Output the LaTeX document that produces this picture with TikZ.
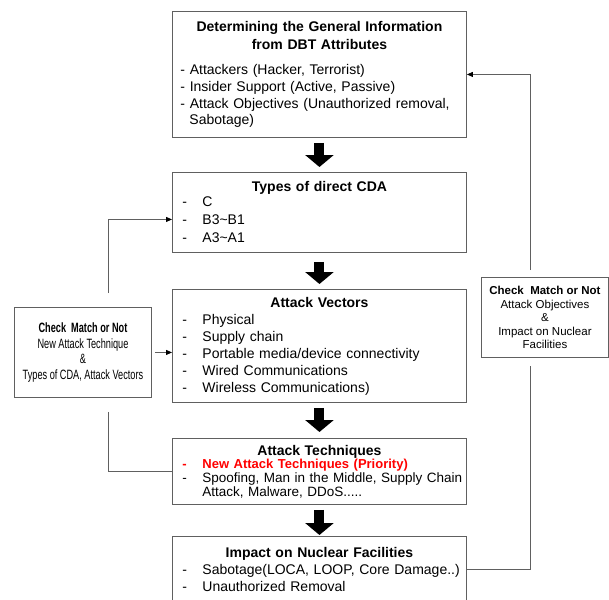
\documentclass[tikz,border=0pt]{standalone}
\usepackage{fontspec}
\setmainfont{Liberation Sans}
\newfontfamily\narrowfont[FakeStretch=0.68]{Liberation Sans}
\usetikzlibrary{arrows.meta,calc}
\definecolor{framegray}{RGB}{96,96,96}
\definecolor{priored}{RGB}{255,0,0}
\newcommand{\dashitem}[1]{\mbox{\makebox[20pt][l]{-}#1}}
\newcommand{\contitem}[1]{\mbox{\hspace*{20pt}#1}}
\setlength{\parindent}{0pt}

\begin{document}
\begin{tikzpicture}[x=1pt,y=-1pt,line width=0.9pt,
		stage/.style={draw=framegray,anchor=north west,minimum width=294pt,text width=274pt,inner xsep=10pt,inner ysep=0pt,align=left},
		checkbox/.style={draw=framegray,anchor=north west,inner sep=0pt,align=center},
		bigarrow/.style={line width=10pt,-{Triangle[length=12pt,width=28pt]},shorten <=5pt,shorten >=5pt},
		link/.style={draw=framegray,line width=0.8pt},
		linkarrow/.style={link,-{Triangle[length=6pt,width=5pt,color=black]}}]
	\useasboundingbox (0,0) rectangle (609,599);
	\node[stage,minimum height=126pt,text width=278pt,inner xsep=8pt,font=\fontsize{14}{16.7}\selectfont] (dbt) at (172,11) {{\centering\bfseries\fontsize{14}{18}\selectfont Determining the General Information\\from DBT Attributes\par}\vspace{9pt}- Attackers (Hacker, Terrorist)\\- Insider Support (Active, Passive)\\- Attack Objectives (Unauthorized removal,\\\hspace*{9pt}Sabotage)};
	\node[stage,minimum height=80pt,font=\fontsize{14}{18}\selectfont] (cda) at (172,172) {{\centering\bfseries Types of direct CDA\par}\vspace{-3pt}\dashitem{C}\\\dashitem{B3\textasciitilde B1}\\\dashitem{A3\textasciitilde A1}};
	\node[stage,minimum height=113pt,font=\fontsize{14}{17}\selectfont] (vectors) at (172,289) {{\centering\bfseries Attack Vectors\par}\dashitem{Physical}\\\dashitem{Supply chain}\\\dashitem{Portable media/device connectivity}\\\dashitem{Wired Communications}\\\dashitem{Wireless Communications)}};
	\node[stage,minimum height=66pt,font=\fontsize{13.5}{14}\selectfont] (techniques) at (172,438) {{\centering\bfseries\fontsize{14}{14}\selectfont Attack Techniques\par}\vspace{-1pt}\leavevmode{\color{priored}\bfseries\fontsize{13}{14}\selectfont\dashitem{New Attack Techniques (Priority)}}\\\dashitem{Spoofing, Man in the Middle, Supply Chain}\\\contitem{Attack, Malware, DDoS.....}};
	\node[stage,minimum height=66pt,font=\fontsize{14}{17}\selectfont] (impact) at (172,536) {{\centering\bfseries Impact on Nuclear Facilities\par}\dashitem{Sabotage(LOCA, LOOP, Core Damage..)}\\\dashitem{Unauthorized Removal}};
	\node[checkbox,minimum width=137pt,minimum height=90pt,font=\narrowfont\fontsize{13.5}{15.5}\selectfont] (checkleft) at (14,307) {\textbf{Check\ \ Match or Not}\\New Attack Technique\\\&\\Types of CDA, Attack Vectors};
	\node[checkbox,minimum width=127pt,minimum height=80pt,font=\fontsize{11.5}{13.5}\selectfont] (checkright) at (481,277) {\textbf{Check\ \ Match or Not}\\Attack Objectives\\\&\\Impact on Nuclear\\Facilities};
	\coordinate (lefttrack) at (108,0);
	\coordinate (righttrack) at (530,0);
	\draw[bigarrow] (dbt.south) -- (cda.north);
	\draw[bigarrow,shorten <=9pt] (cda.south) -- (vectors.north);
	\draw[bigarrow,shorten >=6pt] (vectors.south) -- (techniques.north);
	\draw[bigarrow,shorten >=1pt] (techniques.south) -- (impact.north);
	\draw[linkarrow] ($(checkleft.north -| lefttrack)+(0,-14)$) |- ($(cda.west)+(0,7)$);
	\draw[linkarrow] ($(checkleft.east)+(3,0)$) -- (checkleft.east -| vectors.west);
	\draw[link] ($(checkleft.south -| lefttrack)+(0,14)$) |- (techniques.west);
	\draw[link] (impact.east) -| ($(checkright.south -| righttrack)+(0,8)$);
	\draw[linkarrow] ($(checkright.north -| righttrack)+(0,-7)$) |- (dbt.east);
\end{tikzpicture}
\end{document}
